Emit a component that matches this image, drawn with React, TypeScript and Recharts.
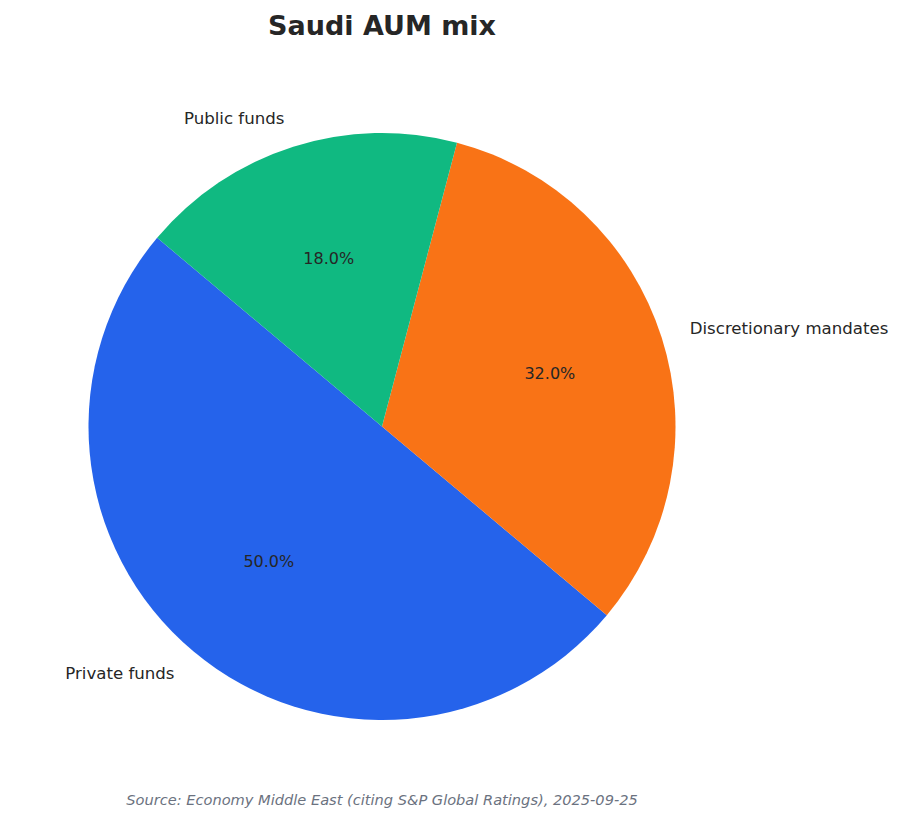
import { PieChart, Pie, Cell } from 'recharts'

const categories = ['Private funds', 'Discretionary mandates', 'Public funds']
const shares = [50, 32, 18]
const colors = ['#2563EB', '#F97316', '#10B981']

const data = categories.map((name, i) => ({ name, value: shares[i] }))

const FONT = '"DejaVu Sans", sans-serif'
const RADIAN = Math.PI / 180

// matplotlib-style labels: name at 1.1r, percentage at 0.6r
const renderLabel = ({ cx, cy, midAngle, outerRadius, percent, name }: any) => {
  const cos = Math.cos(-midAngle * RADIAN)
  const sin = Math.sin(-midAngle * RADIAN)
  const nx = cx + outerRadius * 1.1 * cos
  const ny = cy + outerRadius * 1.1 * sin
  const px = cx + outerRadius * 0.6 * cos
  const py = cy + outerRadius * 0.6 * sin
  return (
    <g>
      <text
        x={nx}
        y={ny}
        fill="#262626"
        textAnchor={nx > cx ? 'start' : 'end'}
        dominantBaseline="central"
        fontSize={16.6}
        fontFamily={FONT}
      >
        {name}
      </text>
      <text
        x={px}
        y={py}
        fill="#262626"
        textAnchor="middle"
        dominantBaseline="central"
        fontSize={16}
        fontFamily={FONT}
      >
        {`${(percent * 100).toFixed(1)}%`}
      </text>
    </g>
  )
}

export default function App() {
  return (
    <div style={{ position: 'relative', width: 903, height: 823, background: '#fff', fontFamily: FONT }}>
      <style>{'body{margin:0}'}</style>
      <div
        style={{
          position: 'absolute',
          top: 11,
          left: 0,
          width: 764,
          textAlign: 'center',
          fontSize: 27,
          lineHeight: '30px',
          fontWeight: 'bold',
          color: '#262626',
        }}
      >
        Saudi AUM mix
      </div>
      <PieChart width={903} height={823} margin={{ top: 0, right: 0, bottom: 0, left: 0 }}>
        <Pie
          data={data}
          dataKey="value"
          nameKey="name"
          cx={382}
          cy={426.5}
          outerRadius={293.5}
          startAngle={140}
          endAngle={500}
          stroke="none"
          labelLine={false}
          label={renderLabel}
          isAnimationActive={false}
        >
          {data.map((entry, index) => (
            <Cell key={`cell-${index}`} fill={colors[index]} />
          ))}
        </Pie>
      </PieChart>
      <div
        style={{
          position: 'absolute',
          top: 790,
          left: 0,
          width: 764,
          textAlign: 'center',
          fontSize: 14.6,
          lineHeight: '20px',
          fontStyle: 'italic',
          color: '#6B7280',
        }}
      >
        Source: Economy Middle East (citing S&amp;P Global Ratings), 2025-09-25
      </div>
    </div>
  )
}
